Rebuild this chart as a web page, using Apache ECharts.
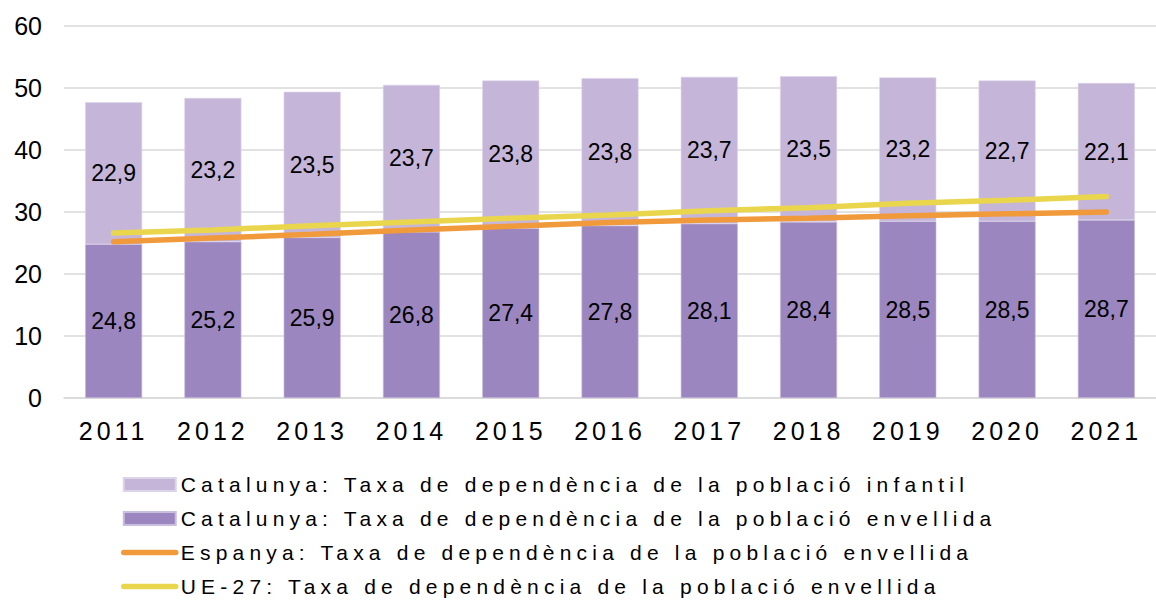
<!DOCTYPE html>
<html>
<head>
<meta charset="utf-8">
<script src="https://cdn.jsdelivr.net/npm/echarts@6/dist/echarts.min.js"></script>
<style>
  html, body { margin: 0; padding: 0; background: #fff; }
  #chart { width: 1156px; height: 601px; }
  /* letter spacing for x axis labels and legend text (svg renderer) */
  #chart text[style*="Helvetica"] { letter-spacing: 4px; }
  #chart text[style*="Arial"] { letter-spacing: 5.2px; }
</style>
</head>
<body>
<div id="chart"></div>
<script>
const years = ['2011', '2012', '2013', '2014', '2015', '2016', '2017', '2018', '2019', '2020', '2021'];
const catInfantil = [22.9, 23.2, 23.5, 23.7, 23.8, 23.8, 23.7, 23.5, 23.2, 22.7, 22.1];
const catEnvellida = [24.8, 25.2, 25.9, 26.8, 27.4, 27.8, 28.1, 28.4, 28.5, 28.5, 28.7];
const espEnvellida = [25.2, 25.8, 26.4, 27.1, 27.7, 28.3, 28.7, 29.0, 29.4, 29.7, 30.0];
const ueEnvellida = [26.6, 27.1, 27.8, 28.4, 29.0, 29.5, 30.2, 30.7, 31.4, 31.9, 32.5];

const names = [
  'Catalunya: Taxa de dependència de la població infantil',
  'Catalunya: Taxa de dependència de la població envellida',
  'Espanya: Taxa de dependència de la població envellida',
  'UE-27: Taxa de dependència de la població envellida'
];

const fmt = (p) => p.value.toFixed(1).replace('.', ',');

const barLabel = {
  show: true,
  position: 'inside',
  color: '#000',
  fontSize: 23,
  fontFamily: 'Liberation Sans',
  formatter: fmt
};

const chart = echarts.init(document.getElementById('chart'), null, { renderer: 'svg' });

chart.setOption({
  backgroundColor: '#fff',
  animation: false,
  grid: { left: 64, top: 26, width: 1104, height: 372 },
  legend: {
    orient: 'vertical',
    left: 121,
    top: 474,
    padding: 0,
    itemWidth: 52,
    itemHeight: 13,
    itemGap: 13,
    textStyle: { color: '#000', fontSize: 21, lineHeight: 21, fontFamily: 'Liberation Sans, Arial' },
    data: [
      { name: names[0], icon: 'rect' },
      { name: names[1], icon: 'rect' },
      { name: names[2], itemStyle: { opacity: 0 }, lineStyle: { width: 5.5, cap: 'round' } },
      { name: names[3], itemStyle: { opacity: 0 }, lineStyle: { width: 5.5, cap: 'round' } }
    ]
  },
  xAxis: {
    type: 'category',
    data: years,
    axisLine: { lineStyle: { color: '#D9D9D9', width: 1.5 } },
    axisTick: { length: 7, lineStyle: { color: '#D9D9D9', width: 1.5 } },
    axisLabel: {
      color: '#000',
      fontSize: 25,
      fontFamily: 'Liberation Sans, Helvetica',
      margin: 20
    }
  },
  yAxis: {
    type: 'value',
    min: 0,
    max: 60,
    interval: 10,
    axisLine: { show: false },
    axisTick: { show: false },
    axisLabel: { color: '#000', fontSize: 25, fontFamily: 'Liberation Sans', margin: 22 },
    splitLine: { lineStyle: { color: '#D9D9D9', width: 1.5 } }
  },
  series: [
    {
      name: names[1],
      type: 'bar',
      stack: 'cat',
      barWidth: 57,
      data: catEnvellida,
      itemStyle: { color: '#9B86C0', borderColor: '#C9BEDD', borderWidth: 0.6 },
      label: barLabel
    },
    {
      name: names[0],
      type: 'bar',
      stack: 'cat',
      barWidth: 57,
      data: catInfantil,
      itemStyle: { color: '#C5B6D9', borderColor: '#DCD4E8', borderWidth: 0.6 },
      label: barLabel
    },
    {
      name: names[2],
      type: 'line',
      data: espEnvellida,
      symbol: 'none',
      z: 5,
      lineStyle: { color: '#F09A3C', width: 5.5, cap: 'round' },
      itemStyle: { color: '#F09A3C' }
    },
    {
      name: names[3],
      type: 'line',
      data: ueEnvellida,
      symbol: 'none',
      z: 5,
      lineStyle: { color: '#E9D64C', width: 5.5, cap: 'round' },
      itemStyle: { color: '#E9D64C' }
    }
  ]
});
</script>
</body>
</html>
